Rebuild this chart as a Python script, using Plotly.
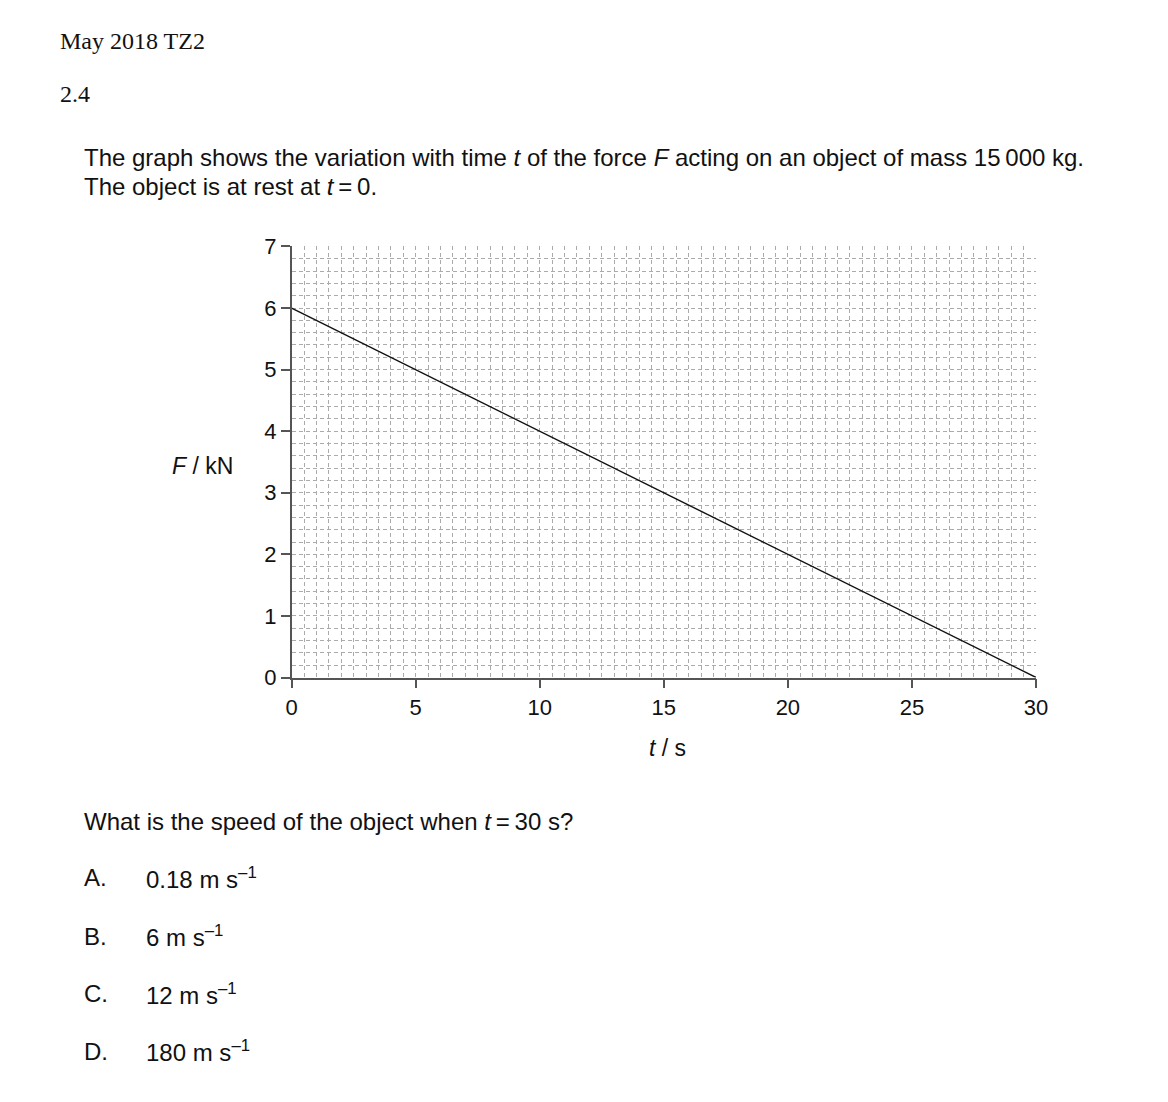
import plotly.graph_objects as go

# Data
time_s = [0, 30]
force_kN = [6, 0]
x_ticks = [0, 5, 10, 15, 20, 25, 30]
y_ticks = [0, 1, 2, 3, 4, 5, 6, 7]
options = ["A.", "B.", "C.", "D."]
answers = ["0.18 m s<sup>–1</sup>", "6 m s<sup>–1</sup>", "12 m s<sup>–1</sup>", "180 m s<sup>–1</sup>"]

W, H = 1168, 1102

# the page is shown with a small offset/scale; map target picture pixels to figure pixels
def fx(t, off=10.3):
    return (t - off) / 0.992 / W

def fy(t, off=17.0):
    return (H - (t - off) / 0.984) / H

fig = go.Figure()
fig.add_trace(go.Scatter(x=time_s, y=force_kN, mode="lines",
                         line=dict(color="#111111", width=1.4),
                         hoverinfo="skip", showlegend=False))

grid_color = "#ababab"
axis_color = "#555555"
tick_font = dict(family="Liberation Sans, Arial, sans-serif", size=22, color="#111111")

fig.update_xaxes(
    range=[0, 30], domain=[fx(290), fx(1040)],
    tickvals=x_ticks, ticks="outside", ticklen=9, tickwidth=1.5, tickcolor=axis_color,
    showline=True, linecolor=axis_color, linewidth=1.5,
    showgrid=True, gridcolor=grid_color, gridwidth=1, griddash="4px,3px",
    minor=dict(dtick=0.5, showgrid=True, gridcolor=grid_color, gridwidth=1, griddash="4px,3px"),
    zeroline=False, tickfont=tick_font, fixedrange=True,
)
fig.update_yaxes(
    range=[0, 7], domain=[fy(679), fy(245)],
    tickvals=y_ticks, ticks="outside", ticklen=9, tickwidth=1.5, tickcolor=axis_color,
    showline=True, linecolor=axis_color, linewidth=1.5,
    showgrid=True, gridcolor=grid_color, gridwidth=1, griddash="4px,3px",
    minor=dict(dtick=0.2, showgrid=True, gridcolor=grid_color, gridwidth=1, griddash="4px,3px"),
    zeroline=False, tickfont=tick_font, fixedrange=True,
)

serif = "Liberation Serif, Times New Roman, serif"
sans = "Liberation Sans, Arial, sans-serif"
anns = []

def text(x, y, s, family=sans, size=24, anchor="left"):
    xoff = {"left": 15.3, "right": 9.3, "center": 8.3}[anchor]
    anns.append(dict(x=fx(x, xoff), y=fy(y, 20.5), xref="paper", yref="paper", text=s,
                     showarrow=False, xanchor=anchor, yanchor="middle",
                     font=dict(family=family, size=size, color="#111111"), align="left"))

text(60, 42, "May 2018 TZ2", family=serif, size=24)
text(60, 95, "2.4", family=serif, size=24)
text(84, 159, "The graph shows the variation with time <i>t</i> of the force <i>F</i> acting on an object of mass 15\u2009000 kg.")
text(84, 188, "The object is at rest at <i>t</i>\u2009=\u20090.")
text(232, 470, "<i>F</i> / kN", anchor="right", size=23)
text(667, 753, "<i>t</i> / s", anchor="center", size=23)
text(84, 827, "What is the speed of the object when <i>t</i>\u2009=\u200930 s?")
for i, (o, a) in enumerate(zip(options, answers)):
    yy = [884, 943, 1001, 1059][i]
    text(84, yy, o)
    text(146, yy, a)

fig.update_layout(
    width=W, height=H, autosize=False,
    margin=dict(l=0, r=0, t=0, b=0),
    paper_bgcolor="white", plot_bgcolor="white",
    annotations=anns, showlegend=False,
)

fig.write_html("out.html")
